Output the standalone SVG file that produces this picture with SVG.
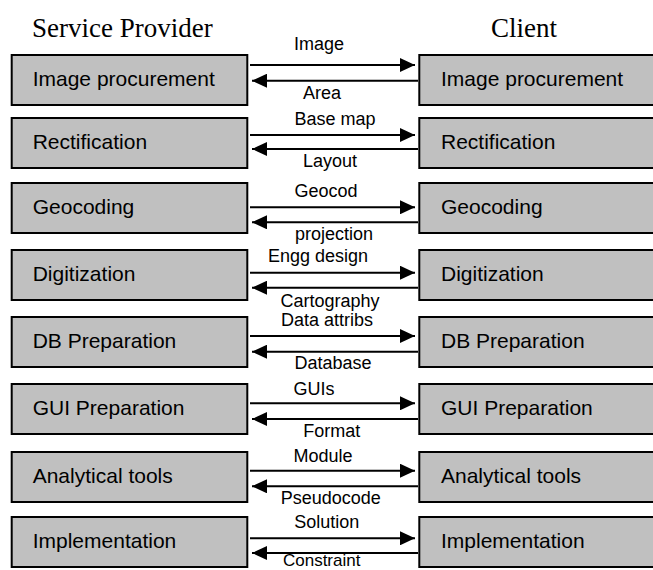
<svg xmlns="http://www.w3.org/2000/svg" width="653" height="570" viewBox="0 0 653 570">
<defs>
<marker id="ah" markerUnits="userSpaceOnUse" markerWidth="16" markerHeight="14" refX="15" refY="7" orient="auto">
<path d="M0,0 L15,7 L0,14 z" fill="#000"/>
</marker>
<style>
.box{fill:#c0c0c0;stroke:#000;stroke-width:2}
.bt{font-family:"Liberation Sans",Arial,sans-serif;font-size:21px;fill:#000}
.lb{font-family:"Liberation Sans",Arial,sans-serif;font-size:18px;fill:#000;text-anchor:middle}
.tt{font-family:"Liberation Serif","Times New Roman",serif;font-size:27px;fill:#000}
.ar{stroke:#000;stroke-width:2;fill:none;marker-end:url(#ah)}
</style>
</defs>
<rect width="653" height="570" fill="#fff"/>
<text class="tt" x="32" y="37">Service Provider</text>
<text class="tt" x="491" y="37">Client</text>

<g id="sp-image"><rect class="box" x="11.7" y="55" width="235.6" height="50"/><text class="bt" x="32.7" y="86">Image procurement</text></g>
<g id="sp-rect"><rect class="box" x="11.7" y="118" width="235.6" height="50"/><text class="bt" x="32.7" y="149">Rectification</text></g>
<g id="sp-geo"><rect class="box" x="11.7" y="183" width="235.6" height="50"/><text class="bt" x="32.7" y="214">Geocoding</text></g>
<g id="sp-dig"><rect class="box" x="11.7" y="250" width="235.6" height="50"/><text class="bt" x="32.7" y="281">Digitization</text></g>
<g id="sp-db"><rect class="box" x="11.7" y="317" width="235.6" height="50"/><text class="bt" x="32.7" y="348">DB Preparation</text></g>
<g id="sp-gui"><rect class="box" x="11.7" y="384" width="235.6" height="50"/><text class="bt" x="32.7" y="415">GUI Preparation</text></g>
<g id="sp-ana"><rect class="box" x="11.7" y="452" width="235.6" height="50"/><text class="bt" x="32.7" y="483">Analytical tools</text></g>
<g id="sp-imp"><rect class="box" x="11.7" y="517" width="235.6" height="50"/><text class="bt" x="32.7" y="548">Implementation</text></g>

<g id="cl-image"><rect class="box" x="419.3" y="55" width="240" height="50"/><text class="bt" x="441" y="86">Image procurement</text></g>
<g id="cl-rect"><rect class="box" x="419.3" y="118" width="240" height="50"/><text class="bt" x="441" y="149">Rectification</text></g>
<g id="cl-geo"><rect class="box" x="419.3" y="183" width="240" height="50"/><text class="bt" x="441" y="214">Geocoding</text></g>
<g id="cl-dig"><rect class="box" x="419.3" y="250" width="240" height="50"/><text class="bt" x="441" y="281">Digitization</text></g>
<g id="cl-db"><rect class="box" x="419.3" y="317" width="240" height="50"/><text class="bt" x="441" y="348">DB Preparation</text></g>
<g id="cl-gui"><rect class="box" x="419.3" y="384" width="240" height="50"/><text class="bt" x="441" y="415">GUI Preparation</text></g>
<g id="cl-ana"><rect class="box" x="419.3" y="452" width="240" height="50"/><text class="bt" x="441" y="483">Analytical tools</text></g>
<g id="cl-imp"><rect class="box" x="419.3" y="517" width="240" height="50"/><text class="bt" x="441" y="548">Implementation</text></g>

<g id="connectors">
<line class="ar" x1="250" y1="65" x2="415" y2="65"/><line class="ar" x1="418" y1="80.7" x2="252" y2="80.7"/>
<text class="lb" x="319" y="50">Image</text><text class="lb" x="322" y="99">Area</text>
<line class="ar" x1="250" y1="135" x2="415" y2="135"/><line class="ar" x1="418" y1="149" x2="252" y2="149"/>
<text class="lb" x="335" y="125">Base map</text><text class="lb" x="330" y="166.7">Layout</text>
<line class="ar" x1="250" y1="207.3" x2="415" y2="207.3"/><line class="ar" x1="418" y1="222.3" x2="252" y2="222.3"/>
<text class="lb" x="326" y="197">Geocod</text><text class="lb" x="334" y="240">projection</text>
<line class="ar" x1="250" y1="272.7" x2="415" y2="272.7"/><line class="ar" x1="418" y1="287.7" x2="252" y2="287.7"/>
<text class="lb" x="318" y="261.7">Engg design</text><text class="lb" x="330" y="306.7">Cartography</text>
<line class="ar" x1="250" y1="336" x2="415" y2="336"/><line class="ar" x1="418" y1="351.7" x2="252" y2="351.7"/>
<text class="lb" x="327" y="326">Data attribs</text><text class="lb" x="333" y="369">Database</text>
<line class="ar" x1="250" y1="403.3" x2="415" y2="403.3"/><line class="ar" x1="418" y1="419" x2="252" y2="419"/>
<text class="lb" x="314" y="395">GUIs</text><text class="lb" x="331.7" y="436.7">Format</text>
<line class="ar" x1="250" y1="470.7" x2="415" y2="470.7"/><line class="ar" x1="418" y1="486.3" x2="252" y2="486.3"/>
<text class="lb" x="323" y="461.7">Module</text><text class="lb" x="330.7" y="504">Pseudocode</text>
<line class="ar" x1="250" y1="538.3" x2="415" y2="538.3"/><line class="ar" x1="418" y1="553" x2="252" y2="553"/>
<text class="lb" x="326.7" y="528.3">Solution</text><text class="lb" x="321.7" y="566" style="font-size:17px">Constraint</text>
</g>
</svg>
